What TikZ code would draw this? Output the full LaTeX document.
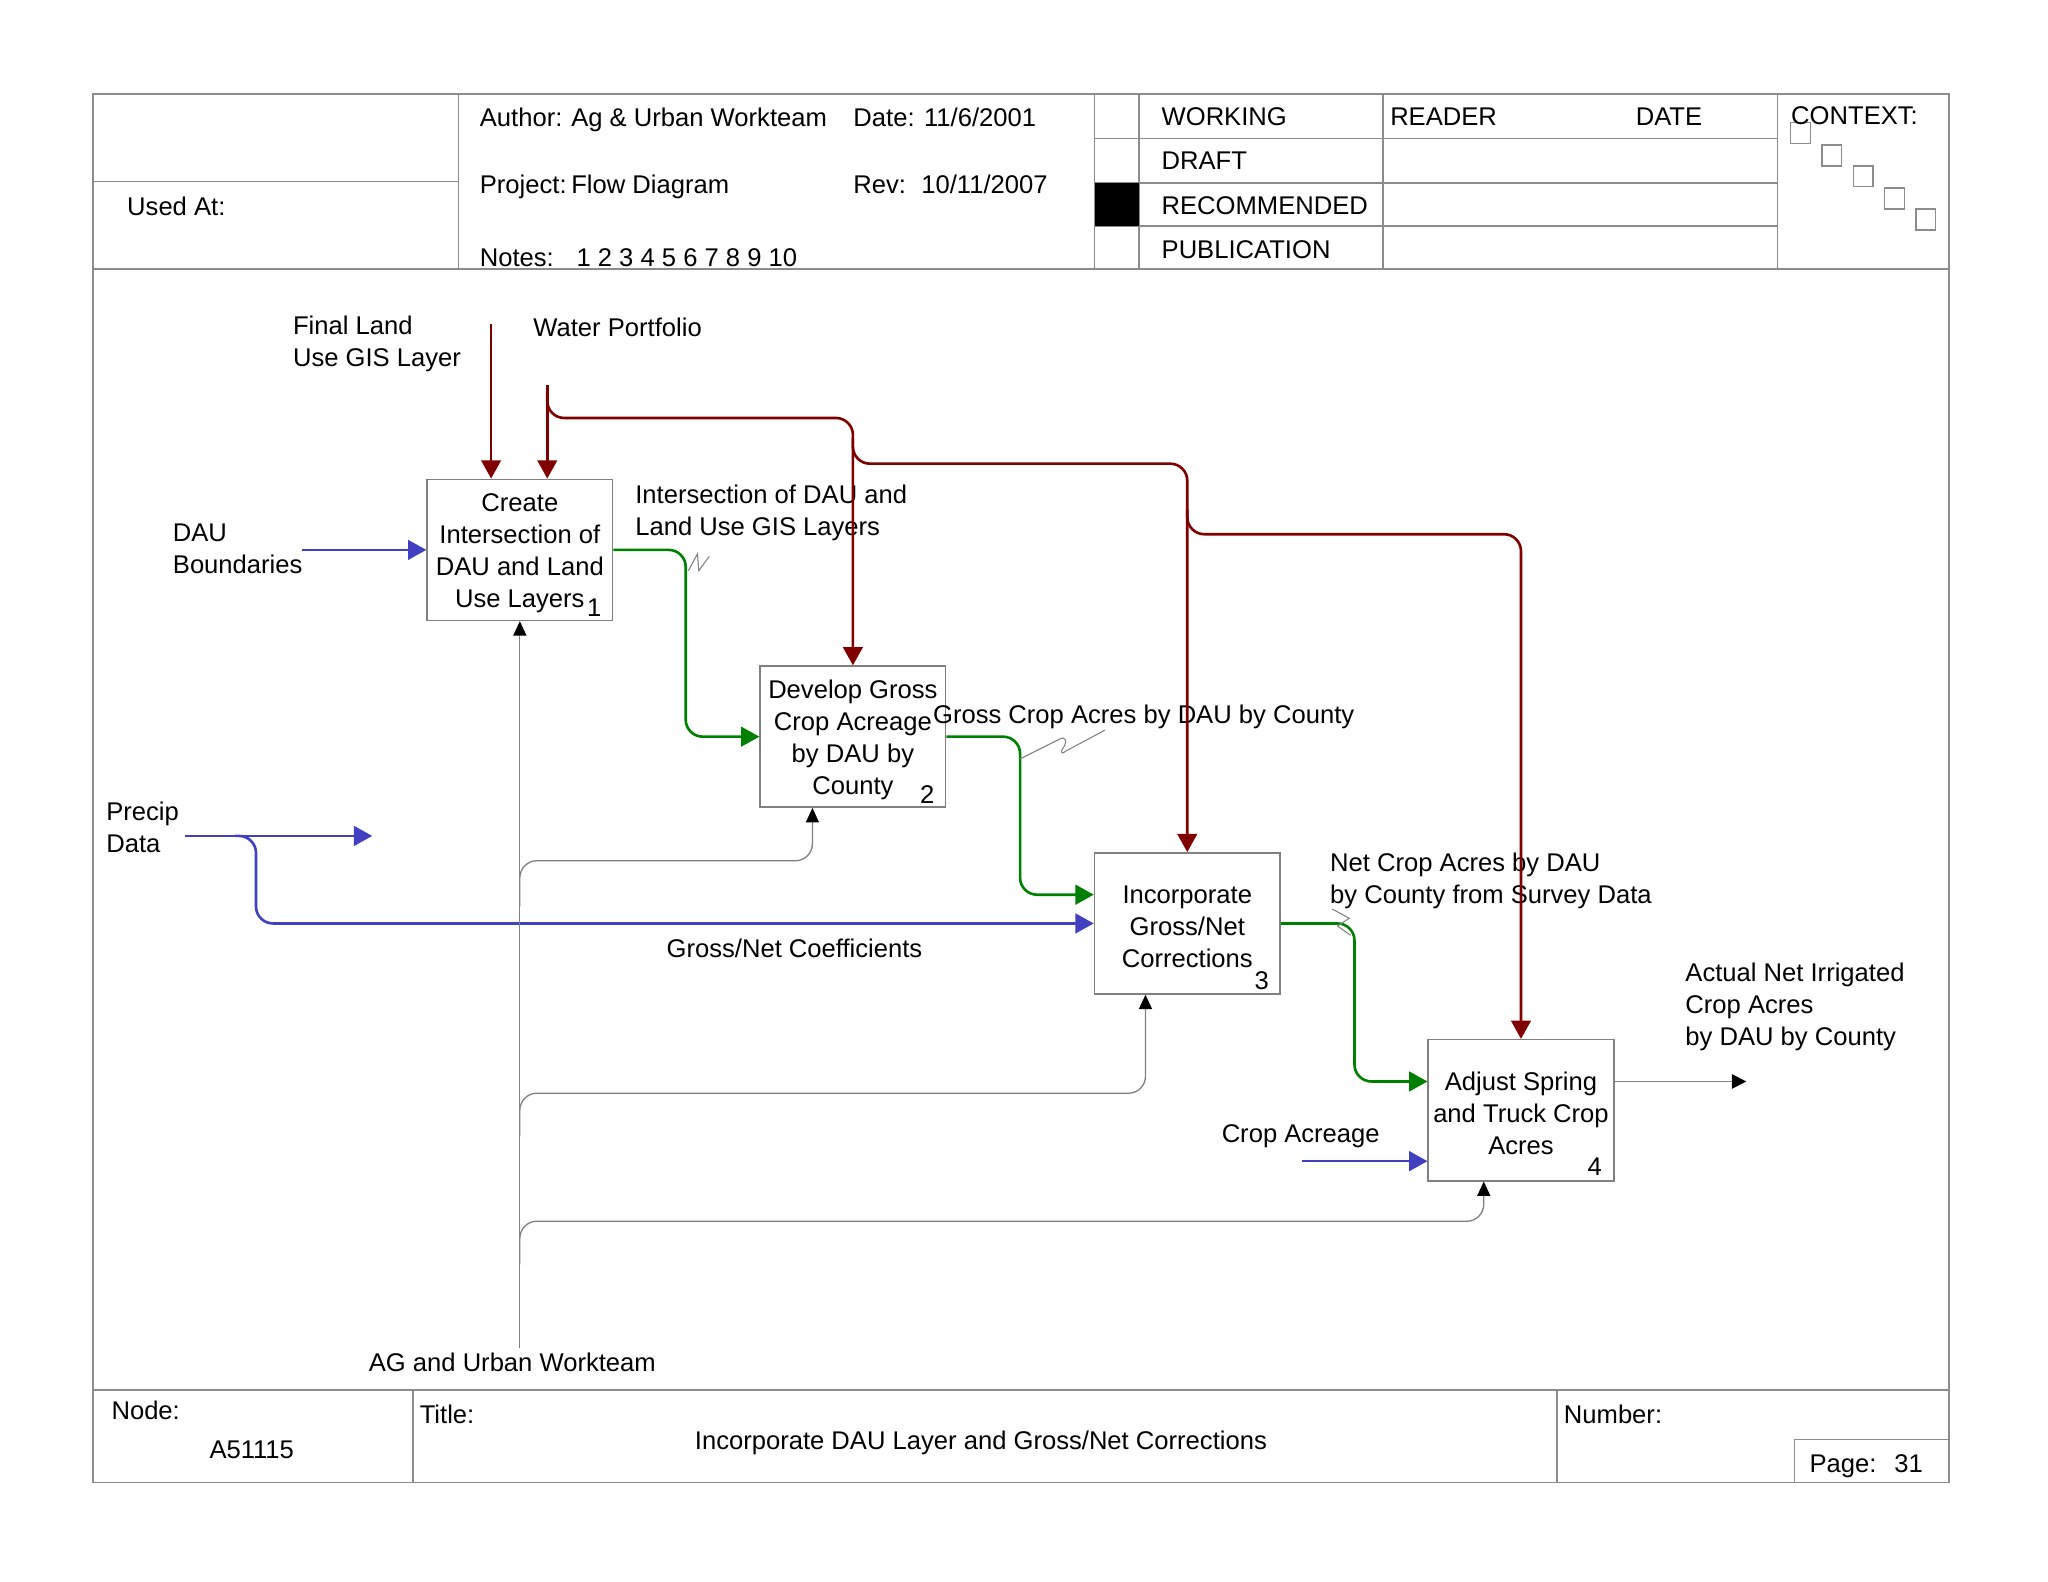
\documentclass[tikz,border=0pt]{standalone}
\usepackage{fontspec}
\setmainfont{Liberation Sans}
\usetikzlibrary{arrows.meta}
\definecolor{dred}{RGB}{128,0,0}
\definecolor{dblue}{RGB}{64,64,192}
\definecolor{dgreen}{RGB}{0,128,0}
\definecolor{lgray}{RGB}{128,128,128}
\definecolor{fgray}{RGB}{140,140,140}
\begin{document}
\begin{tikzpicture}[x=0.5pt,y=-0.5pt,
  every node/.style={font=\fontsize{9.8}{12.25}\selectfont, inner sep=0pt},
  lbl/.style={anchor=west, align=left, yshift=-1pt},
  sl/.style={anchor=west, text height=7pt, text depth=2pt, yshift=-1pt},
  txt/.style={align=center, yshift=-1.25pt},
  box/.style={draw=lgray, line width=0.6pt, minimum width=71pt, minimum height=54pt},
  frameline/.style={draw=fgray, line width=0.6pt},
  rarrow/.style={draw=dred, line width=1pt, rounded corners=6.5pt, -{Triangle[length=7pt,width=7.5pt]}},
  barrow/.style={draw=dblue, line width=1pt, rounded corners=6.5pt, -{Triangle[length=7pt,width=7.5pt]}},
  garrow/.style={draw=dgreen, line width=1pt, rounded corners=6.5pt, -{Triangle[length=7pt,width=7.5pt]}},
  marrow/.style={draw=lgray, line width=0.5pt, rounded corners=6.5pt, -{Triangle[length=5.5pt,width=5pt,fill=black,color=black]}},
  squig/.style={draw=lgray, line width=0.4pt},
  ctxbox/.style={draw=fgray, line width=0.5pt}
]
\useasboundingbox (0,0) rectangle (1568,1211);

% ---------- frame ----------
\draw[frameline] (71,72) rectangle (1492,1135);
\draw[frameline] (71,206) -- (1492,206);
\draw[frameline] (71,1064) -- (1492,1064);
\draw[frameline] (71,139) -- (351,139);
\draw[frameline] (351,72) -- (351,206);
\draw[frameline] (838,72) -- (838,206);
\draw[frameline] (872,72) -- (872,206);
\draw[frameline] (1059,72) -- (1059,206);
\draw[frameline] (1361,72) -- (1361,206);
\draw[frameline] (838,106) -- (1361,106);
\draw[frameline] (838,140) -- (1361,140);
\draw[frameline] (838,173) -- (1361,173);
\fill[black] (838,140) rectangle (872,173);
\draw[frameline] (316,1064) -- (316,1135);
\draw[frameline] (1192,1064) -- (1192,1135);
\draw[frameline] (1374,1135) -- (1374,1102) -- (1492,1102);

% context squares
\draw[ctxbox] (1371,94) rectangle (1386,110);
\draw[ctxbox] (1395,111) rectangle (1410,127);
\draw[ctxbox] (1419,127) rectangle (1434,143);
\draw[ctxbox] (1443,144) rectangle (1458,160);
\draw[ctxbox] (1467,160) rectangle (1482,176);

% header texts
\node[sl] (usedat) at (97,158) {Used At:};
\node[sl] (author) at (367,90) {Author:};
\node[sl] (authorv) at (437,90) {Ag \& Urban Workteam};
\node[sl] (date) at (653,90) {Date: 11/6/2001};
\node[sl] (project) at (367,141) {Project:};
\node[sl] (projectv) at (437,141) {Flow Diagram};
\node[sl] (rev) at (653,141) {Rev:};
\node[sl] (revv) at (705,141) {10/11/2007};
\node[sl] (notes) at (367,197) {Notes:};
\node[sl] (notesv) at (441,197) {1 2 3 4 5 6 7 8 9 10};
\node[sl] (working) at (889,89) {WORKING};
\node[sl] (draft) at (889,123) {DRAFT};
\node[sl] (recommended) at (889,157) {RECOMMENDED};
\node[sl] (publication) at (889,191) {PUBLICATION};
\node[sl] (reader) at (1064,89) {READER};
\node[sl] (rdate) at (1252,89) {DATE};
\node[sl] (context) at (1371,88) {CONTEXT:};

% footer texts
\node[sl] (nodelbl) at (85,1080) {Node:};
\node[sl] (nodev) at (160,1110) {A51115};
\node[sl] (titlelbl) at (321,1083) {Title:};
\node[txt] (titlev) at (751,1102) {Incorporate DAU Layer and Gross/Net Corrections};
\node[sl] (numberlbl) at (1197,1083) {Number:};
\node[sl] (pagelbl) at (1385,1120) {Page:};
\node[sl] (pagev) at (1450,1120) {31};

% ---------- activity boxes ----------
\node[box] (b1) at (398,421) {};
\node[txt] (t1) at (b1) {Create\\Intersection of\\DAU and Land\\Use Layers};
\node[txt] (n1) at (455,463) {1};
\node[box] (b2) at (653,564) {};
\node[txt] (t2) at (b2) {Develop Gross\\Crop Acreage\\by DAU by\\County};
\node[txt] (n2) at (710,606) {2};
\node[box] (b3) at (909,707) {};
\node[txt] (t3) at (b3) {Incorporate\\Gross/Net\\Corrections};
\node[txt] (n3) at (966,748) {3};
\node[box] (b4) at (1164.5,850) {};
\node[txt] (t4) at (b4) {Adjust Spring\\and Truck Crop\\Acres};
\node[txt] (n4) at (1221,891) {4};

% ---------- labels ----------
\node[lbl] (lfinal) at (224,261.5) {Final Land\\Use GIS Layer};
\node[sl] (lwater) at (408,251) {Water Portfolio};
\node[lbl] (ldau) at (132,418.5) {DAU\\Boundaries};
\node[lbl] (linter) at (486,391) {Intersection of DAU and\\Land Use GIS Layers};
\node[sl] (lgross) at (714,547) {Gross Crop Acres by DAU by County};
\node[lbl] (lprecip) at (81,631.5) {Precip\\Data};
\node[sl] (lcoef) at (510,726) {Gross/Net Coefficients};
\node[lbl] (lnet) at (1018,672.5) {Net Crop Acres by DAU\\by County from Survey Data};
\node[lbl] (lactual) at (1290,769) {Actual Net Irrigated\\Crop Acres\\by DAU by County};
\node[sl] (lcrop) at (935,868) {Crop Acreage};
\node[sl] (lmech) at (282,1043) {AG and Urban Workteam};

% free ends
\coordinate (finaltop) at (376,248);
\coordinate (watertop) at (419,295);
\coordinate (dauend) at (231,421);
\coordinate (precipstart) at (142,640);
\coordinate (precipend) at (285,640);
\coordinate (cropstart) at (997,889);
\coordinate (outend) at (1337,828);
\coordinate (mechbot) at (398,1032);

% ---------- controls (dark red) ----------
\draw[rarrow] (finaltop) -- ([xshift=-11pt]b1.north);
\draw[rarrow] (watertop) -- ([xshift=10.5pt]b1.north);
\draw[rarrow] (419,300) -- (419,320) -- (653,320) -- (b2.north);
\draw[rarrow] (653,335) -- (653,355) -- (909,355) -- (b3.north);
\draw[rarrow] (909,390) -- (909,409) -- (1164.5,409) -- (b4.north);

% ---------- inputs (blue) ----------
\draw[barrow] (dauend) -- (b1.west);
\draw[barrow] (precipstart) -- (precipend);
\draw[barrow] (180,640) -- (196,640) -- (196,707) -- (b3.west);
\draw[barrow] (cropstart) -- ([yshift=-19.5pt]b4.west);

% ---------- outputs (green) ----------
\draw[garrow] (b1.east) -- (525,421) -- (525,564) -- (b2.west);
\draw[garrow] (b2.east) -- (781,564) -- (781,685) -- ([yshift=11pt]b3.west);
\draw[garrow] (b3.east) -- (1037,707) -- (1037,828) -- ([yshift=11pt]b4.west);
\draw[draw=lgray, line width=0.6pt, -{Triangle[length=5.5pt,width=5.5pt,fill=black,color=black]}] ([yshift=11pt]b4.east) -- (outend);

% ---------- mechanisms ----------
\draw[marrow] (mechbot) -- (b1.south);
\draw[marrow] (398,694) -- (398,659) -- (622,659) -- ([xshift=-15.5pt]b2.south);
\draw[marrow] (398,870) -- (398,837) -- (877,837) -- ([xshift=-16pt]b3.south);
\draw[marrow] (398,968) -- (398,935) -- (1136,935) -- ([xshift=-14.25pt]b4.south);

% ---------- squiggles ----------
\draw[squig] (527,437) -- (534,424) -- (535,437) -- (543,426);
\draw[squig] (781,581) -- (811,566) .. controls (816,563) and (818,568) .. (813,574) .. controls (812,577) and (814,577) .. (816,575) -- (846,559);
\draw[squig] (1020,696) -- (1033,703) -- (1024,709) -- (1034,716);
\end{tikzpicture}
\end{document}
